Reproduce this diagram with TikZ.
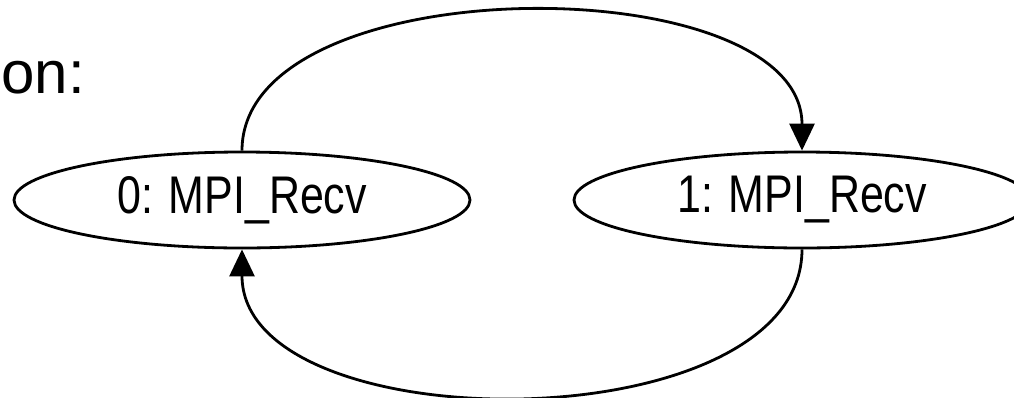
\documentclass[tikz,border=0pt]{standalone}
\usepackage{fontspec}
\setmainfont{Liberation Sans}
\newfontfamily\narrowfont[FakeStretch=0.81]{Liberation Sans}
\usetikzlibrary{calc,shapes.geometric,arrows.meta}

\begin{document}
\begin{tikzpicture}[x=1pt, y=-1pt, line width=2.8pt,
  proc/.style={ellipse, draw, minimum width=456pt, minimum height=96pt, inner sep=0pt,
    font=\narrowfont\fontsize{53}{60}\selectfont},
  msg/.style={-{Triangle[length=27pt,width=25pt]}}]

\useasboundingbox (0,0) rectangle (1014,397);

\node[anchor=base west, inner sep=0pt, font=\fontsize{60}{72}\selectfont] (T) at (0,93) {on:};

\node[proc] (R0) at (242,200) {0: MPI\_Recv};
\node[proc] (R1) at (802,200) {1: MPI\_Recv};

\draw[msg] (R0.north) .. controls ($(R0.north) + (0,-185)$) and ($(R1.north) + (0,-185)$) .. (R1.north);
\draw[msg] (R1.south) .. controls ($(R1.south) + (0,195)$) and ($(R0.south) + (0,195)$) .. (R0.south);

\end{tikzpicture}
\end{document}
